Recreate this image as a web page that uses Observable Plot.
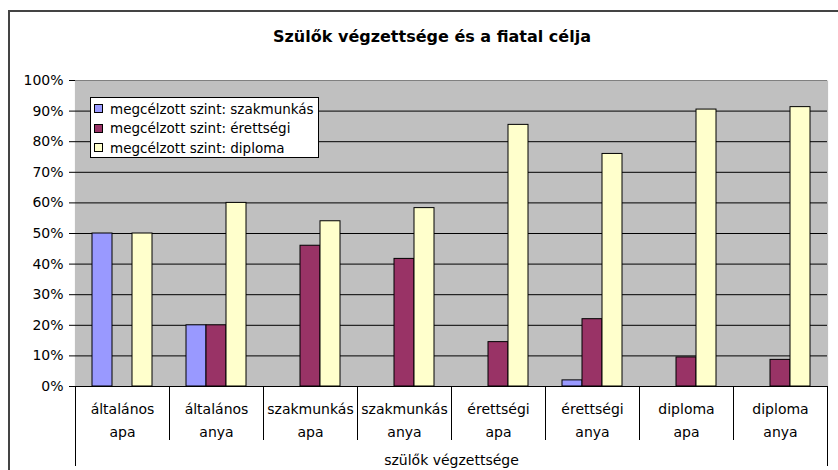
<!DOCTYPE html>
<html><head><meta charset="utf-8">
<script src="https://cdn.jsdelivr.net/npm/d3@7"></script>
<script src="https://cdn.jsdelivr.net/npm/@observablehq/plot@0.6"></script>
<style>
html,body{margin:0;padding:0;background:#fff;}
#wrap{position:relative;width:838px;height:470px;overflow:hidden;font-family:"DejaVu Sans",sans-serif;background:#fff;}
#border{position:absolute;left:8px;top:10px;width:900px;height:600px;border:2px solid #444;box-sizing:border-box;}
#chart{position:absolute;left:0;top:0;}
#title{position:absolute;left:0;width:864px;top:27px;text-align:center;font-weight:bold;font-size:16px;color:#000;}
#legend{position:absolute;left:90px;top:97px;width:229px;height:61px;box-sizing:border-box;border:1px solid #000;background:#fff;font-size:13.5px;padding-top:1px;color:#000;white-space:nowrap;}
.row{display:flex;align-items:center;height:19.5px;}
.sw{width:7px;height:7px;border:1px solid #000;margin-left:3px;margin-right:7px;flex:none;}
</style>
</head><body>
<div id="wrap">
  <div id="border"></div>
  <div id="chart"></div>
  <div id="title"></div>
  <div id="legend"></div>
</div>
<script>
const chartTitle = "Szülők végzettsége és a fiatal célja";
const xTitle = "szülők végzettsége";
const levels = ["általános","általános","szakmunkás","szakmunkás","érettségi","érettségi","diploma","diploma"];
const parents = ["apa","anya","apa","anya","apa","anya","apa","anya"];
const seriesNames = ["megcélzott szint: szakmunkás","megcélzott szint: érettségi","megcélzott szint: diploma"];
const szakmunkas = [50, 20, 0, 0, 0, 2, 0, 0];
const erettsegi  = [0, 20, 46, 41.7, 14.5, 22, 9.5, 8.7];
const diploma    = [50, 60, 54, 58.3, 85.5, 76, 90.5, 91.3];
const colors = ["#9999FF","#993366","#FFFFCC"];
const yTicks = [0,10,20,30,40,50,60,70,80,90,100];

const cats = levels.map((l,i) => l + "\n" + parents[i]);
const seriesValues = [szakmunkas, erettsegi, diploma];
const rows = [];
cats.forEach((c,i) => seriesNames.forEach((s,j) => {
  const v = seriesValues[j][i];
  if (v > 0) rows.push({cat:c, series:s, value:v});
}));

const W=838,H=470,ML=75,MR=11,MT=80,MB=84;
const step=(W-ML-MR)/cats.length;

const plot = Plot.plot({
  width:W,height:H,marginLeft:ML,marginRight:MR,marginTop:MT,marginBottom:MB,
  style:{fontFamily:"DejaVu Sans, sans-serif",fontSize:"14px",color:"#000",background:"transparent",overflow:"visible"},
  fx:{domain:cats,padding:0,label:null},
  x:{domain:seriesNames,paddingInner:0,paddingOuter:0.74,axis:null},
  y:{domain:[0,100],label:null},
  color:{domain:seriesNames,range:colors},
  marks:[
    Plot.frame({fill:"#C0C0C0",insetLeft:-0.6,insetRight:-0.6}),
    Plot.gridY({ticks:yTicks.slice(1,-1),stroke:"#000",strokeOpacity:1}),
    Plot.gridY({ticks:[100],stroke:"#808080",strokeOpacity:1}),
    Plot.barY(rows,{fx:"cat",x:"series",y:"value",fill:"series",stroke:"#000",strokeWidth:1}),
    Plot.ruleY([0],{stroke:"#000"}),
    Plot.axisY({ticks:yTicks,tickFormat:d=>d+"%",tickSize:6,tickPadding:6,line:true,stroke:"#000"}),
    Plot.axisFx({anchor:"bottom",tickSize:0,tickPadding:11,lineHeight:1.65,label:xTitle,labelAnchor:"center",labelOffset:78}),
    Plot.axisFx({anchor:"bottom",tickSize:54,tickFormat:()=>"",dx:-step/2,label:null,stroke:"#000"}),
    Plot.axisFx({anchor:"bottom",ticks:[cats[0]],tickSize:80,tickFormat:()=>"",dx:-step/2,label:null,stroke:"#000"}),
    Plot.axisFx({anchor:"bottom",ticks:[cats[cats.length-1]],tickSize:80,tickFormat:()=>"",dx:step/2,label:null,stroke:"#000"})
  ]
});
document.getElementById("chart").appendChild(plot);
document.getElementById("title").textContent = chartTitle;
const lg = document.getElementById("legend");
seriesNames.forEach((s,i) => {
  const r = document.createElement("div"); r.className="row";
  const sw = document.createElement("div"); sw.className="sw"; sw.style.background=colors[i];
  const t = document.createElement("span"); t.textContent = s;
  r.appendChild(sw); r.appendChild(t); lg.appendChild(r);
});
</script>
</body></html>
